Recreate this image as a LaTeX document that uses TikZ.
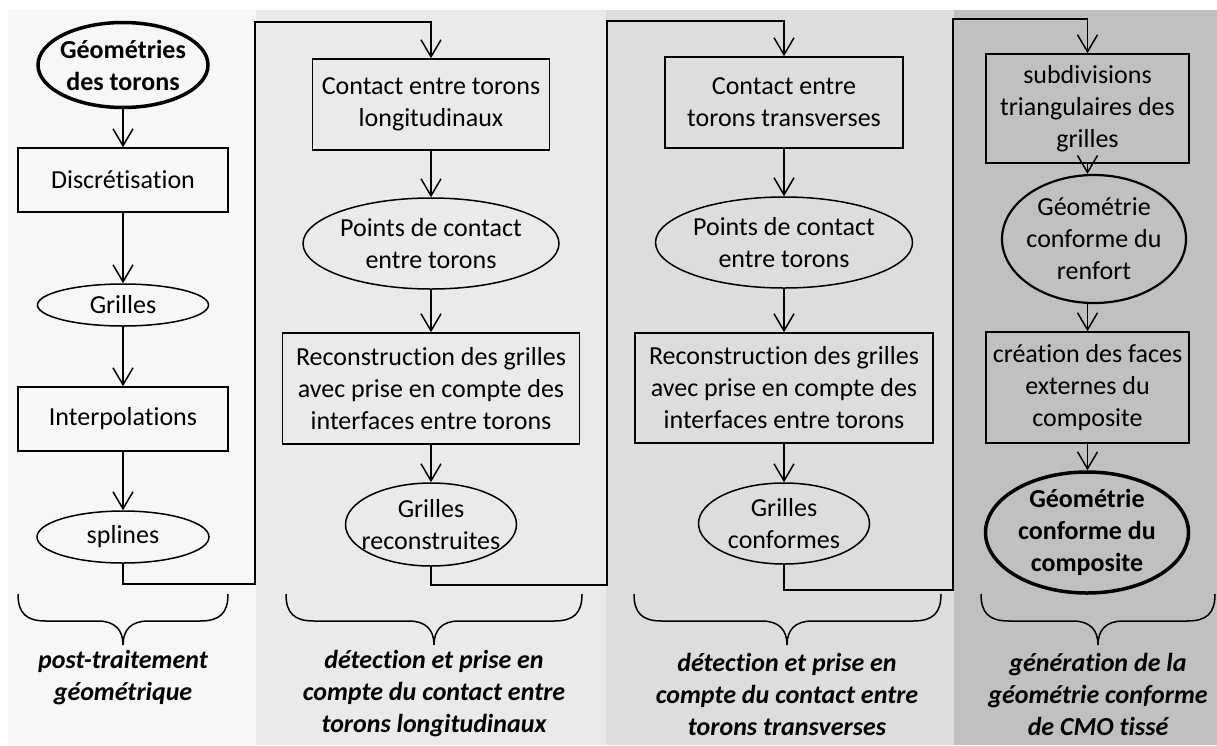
\documentclass[tikz,border=0pt]{standalone}
\usepackage{fontspec}
\setmainfont{Carlito}[Ligatures={NoCommon,NoRare,NoContextual}]
\usetikzlibrary{shapes.geometric,arrows.meta}
\newcommand{\diagfont}{\fontsize{26}{32}\selectfont}
\newcommand{\myti}{t\kern0pt i}
\definecolor{colA}{HTML}{F7F7F7}
\definecolor{colB}{HTML}{EAEAEA}
\definecolor{colC}{HTML}{DDDDDD}
\definecolor{colD}{HTML}{C0C0C0}
\newcommand{\curlyb}[3]{%
  \draw[braceline] (#1,594) .. controls (#1,613) and (#1+8,621) .. (#1+28,621)
    -- (#2-25,621) .. controls (#2-8,621) and (#2,630) .. (#2,645)
    .. controls (#2,630) and (#2+8,621) .. (#2+25,621)
    -- (#3-28,621) .. controls (#3-8,621) and (#3,613) .. (#3,594);}
\tikzset{
  box/.style={draw, line width=1.5pt, inner sep=0pt, align=center, font=\diagfont},
  ell/.style={draw, ellipse, line width=1.5pt, inner sep=0pt},
  thickell/.style={ell, line width=3.5pt},
  midell/.style={ell, line width=2.2pt},
  lab/.style={align=center, inner sep=0pt, font=\diagfont},
  blab/.style={align=center, inner sep=0pt, font=\diagfont\bfseries},
  flow/.style={line width=1.5pt, -{Straight Barb[length=17pt,width=20pt,line width=1.5pt]}},
  braceline/.style={line width=1.5pt},
  caption/.style={align=center, inner sep=0pt, font=\diagfont\bfseries\itshape}
}
\begin{document}
\begin{tikzpicture}[x=1pt,y=-1pt]
\useasboundingbox (0,0) rectangle (1217,745);
\fill[white] (0,0) rectangle (1217,745);
\fill[colA] (8,10) rectangle (256,745);
\fill[colB] (256,10) rectangle (606,745);
\fill[colC] (606,10) rectangle (954,745);
\fill[colD] (954,10) rectangle (1217,745);

% column 1
\node[thickell, minimum width=170pt, minimum height=85pt,
      label={[blab]center:{G\'eom\'etries\\des torons}}] (geo) at (123,65) {};
\node[box, minimum width=210pt, minimum height=64pt] (disc) at (123,180) {Discr\'e\myti sa\myti on};
\node[ell, minimum width=171pt, minimum height=42pt,
      label={[lab]center:{Grilles}}] (gril) at (123,305) {};
\node[box, minimum width=210pt, minimum height=64pt] (interp) at (123,419) {Interpola\myti ons};
\node[ell, minimum width=172pt, minimum height=52pt,
      label={[lab]center:{splines}}] (spl) at (123,537) {};

% column 2
\node[box, minimum width=237pt, minimum height=91pt] (c2a) at (431,104.5) {Contact entre torons\\longitudinaux};
\node[ell, minimum width=256pt, minimum height=91pt,
      label={[lab]center:{Points de contact\\entre torons}}] (c2b) at (431,243.5) {};
\node[box, minimum width=297pt, minimum height=111pt] (c2c) at (431,388.5) {Reconstruc\myti on des grilles\\avec prise en compte des\\interfaces entre torons};
\node[ell, minimum width=171pt, minimum height=83pt,
      label={[lab]center:{Grilles\\reconstruites}}] (c2d) at (431,524.5) {};

% column 3
\node[box, minimum width=238pt, minimum height=91pt] (c3a) at (784,102.5) {Contact entre\\torons transverses};
\node[ell, minimum width=257pt, minimum height=91pt,
      label={[lab]center:{Points de contact\\entre torons}}] (c3b) at (784,242.5) {};
\node[box, minimum width=298pt, minimum height=110pt] (c3c) at (784,388) {Reconstruc\myti on des grilles\\avec prise en compte des\\interfaces entre torons};
\node[ell, minimum width=171pt, minimum height=81pt,
      label={[lab]center:{Grilles\\conformes}}] (c3d) at (784,523.5) {};

% column 4
\node[box, minimum width=203pt, minimum height=109pt] (c4a) at (1087.5,108.5) {subdivisions\\triangulaires des\\grilles};
\node[midell, minimum width=184pt, minimum height=128pt,
      label={[lab]center:{G\'eom\'etrie\\conforme du\\renfort}}] (c4b) at (1094,239) {};
\node[box, minimum width=203pt, minimum height=111pt] (c4c) at (1087.5,387.5) {cr\'ea\myti on des faces\\externes du\\composite};
\node[thickell, minimum width=203pt, minimum height=121pt,
      label={[blab]center:{G\'eom\'etrie\\conforme du\\composite}}] (c4d) at (1087,532.5) {};

% connectors
\draw[flow] (geo) -- (disc);
\draw[flow] (disc) -- (gril);
\draw[flow] (gril) -- (interp);
\draw[flow] (interp) -- (spl);
\coordinate (a1) at (255,584);
\coordinate (a2) at (255,22);
\draw[flow] (spl.south) |- (a1) -- (a2) -| (c2a.north);

\draw[flow] (c2a) -- (c2b);
\draw[flow] (c2b) -- (c2c);
\draw[flow] (c2c) -- (c2d);
\coordinate (b1) at (607,585);
\coordinate (b2) at (607,21);
\draw[flow] (c2d.south) |- (b1) -- (b2) -| (c3a.north);

\draw[flow] (c3a) -- (c3b);
\draw[flow] (c3b) -- (c3c);
\draw[flow] (c3c) -- (c3d);
\coordinate (d1) at (953,590);
\coordinate (d2) at (953,19);
\draw[flow] (c3d.south) |- (d1) -- (d2) -| (c4a.north);

\draw[flow] (c4a.south) -- (c4a.south |- c4b.north);
\draw[flow] (c4c.north |- c4b.south) -- (c4c.north);
\draw[flow] (c4c.south) -- (c4c.south |- c4d.north);

% braces
\curlyb{18}{123}{228}
\curlyb{286}{434}{582}
\curlyb{634}{787}{941}
\curlyb{981}{1098}{1215}

% captions
\node[caption] (cap1) at (123,677.5) {post-traitement\\g\'eom\'etrique};
\node[caption] (cap2) at (434,694) {d\'etec\myti on et prise en\\compte du contact entre\\torons longitudinaux};
\node[caption] (cap3) at (787,694) {d\'etec\myti on et prise en\\compte du contact entre\\torons transverses};
\node[caption] (cap4) at (1098,694) {g\'en\'era\myti on de la\\g\'eom\'etrie conforme\\de CMO tiss\'e};
\end{tikzpicture}
\end{document}
